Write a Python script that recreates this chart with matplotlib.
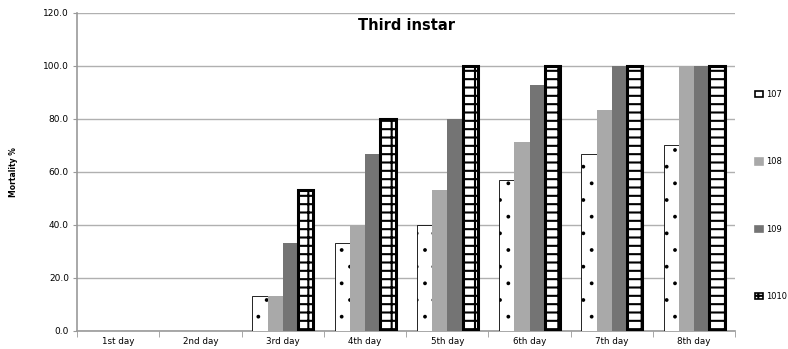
import numpy as np
import matplotlib
matplotlib.use("Agg")
import matplotlib.pyplot as plt
import matplotlib.hatch

# data
days = ["1st day", "2nd day", "3rd day", "4th day", "5th day", "6th day", "7th day", "8th day"]
series = ["107", "108", "109", "1010"]
m107 = [0.0, 0.0, 13.3, 33.3, 40.0, 57.1, 66.7, 70.0]
m108 = [0.0, 0.0, 13.3, 40.0, 53.3, 71.4, 83.3, 100.0]
m109 = [0.0, 0.0, 33.3, 66.7, 80.0, 92.9, 100.0, 100.0]
m1010 = [0.0, 0.0, 53.3, 80.0, 100.0, 100.0, 100.0, 100.0]
values = [m107, m108, m109, m1010]

plt.rcParams['font.family'] = ['DejaVu Sans']
plt.rcParams['hatch.linewidth'] = 1.5
# smaller dots for the '.' hatch
matplotlib.hatch.SmallFilledCircles.size = 0.05

fig = plt.figure(figsize=(7.88, 3.49), dpi=100)
ax = fig.add_axes([0.098, 0.052, 0.835, 0.911])

x = np.arange(len(days))
w = 0.185
offs = (np.arange(4) - 1.5) * w

# styles for each series
styles = [
    dict(color='white', edgecolor='black', hatch='.', linewidth=0.6),
    dict(color='#a9a9a9', edgecolor='#a9a9a9', linewidth=0),
    dict(color='#747474', edgecolor='#747474', linewidth=0),
    dict(color='white', edgecolor='black', hatch='--|', linewidth=2.2),
]

handles = []
for i in range(4):
    vals = np.array(values[i])
    keep = vals > 0
    b = ax.bar(x[keep] + offs[i], vals[keep], w, label=series[i], zorder=3, **styles[i])
    handles.append(b)

ax.set_xlim(-0.5, len(days) - 0.5)
ax.set_ylim(0, 120)
ax.set_yticks(np.arange(0, 121, 20))
ax.set_yticklabels([f"{v:.1f}" for v in np.arange(0, 121, 20)], fontsize=6.5)
ax.set_xticks(x)
ax.set_xticklabels(days, fontsize=6.3)
ax.set_xticks(np.arange(-0.5, len(days)), minor=True)
ax.tick_params(axis='x', which='major', length=0, pad=4.5)
ax.tick_params(axis='x', which='minor', length=4, color='#999999')
ax.tick_params(axis='y', length=3, color='#999999', pad=3)

ax.yaxis.grid(True, color='#b0b0b0', linewidth=1.0, zorder=0)
for s in ['top', 'right']:
    ax.spines[s].set_visible(False)
for s in ['left', 'bottom']:
    ax.spines[s].set_color('#999999')
    ax.spines[s].set_linewidth(1.2)

ax.set_ylabel("Mortality %", fontsize=5.5, fontweight='bold', labelpad=18)
ax.text(0.5, 0.985, "Third instar", transform=ax.transAxes, ha='center', va='top',
        fontsize=10.5, fontweight='bold')

leg = fig.legend(handles=handles, labels=series, loc='center left',
                 bbox_to_anchor=(0.948, 0.44), frameon=False, fontsize=6,
                 handlelength=1.0, handleheight=0.8, labelspacing=7.0,
                 handletextpad=0.4)
# lighter edge on the legend keys so the 1010 key is not a black block
for p in leg.get_patches():
    p.set_linewidth(1.2)

fig.savefig("out.png", dpi=100)
